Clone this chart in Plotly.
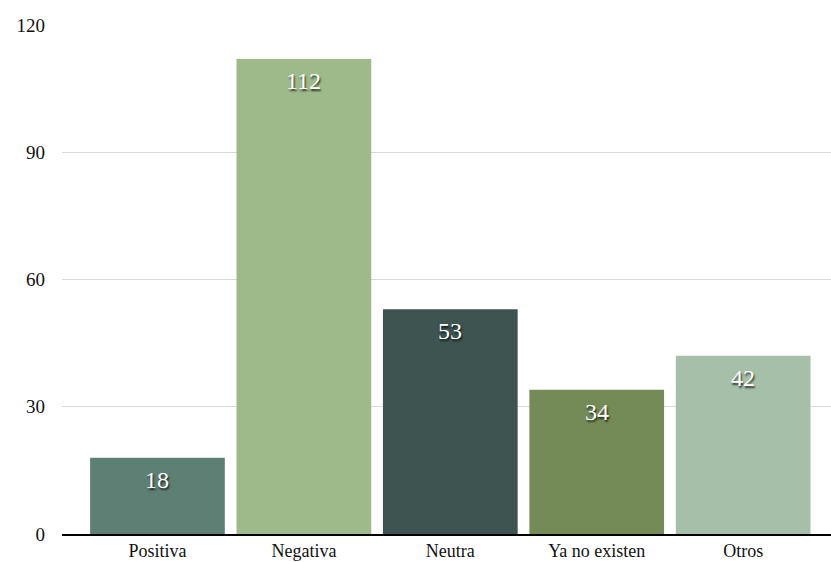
import plotly.graph_objects as go

categories = ["Positiva", "Negativa", "Neutra", "Ya no existen", "Otros"]
values = [18, 112, 53, 34, 42]
colors = ["#5e7f74", "#9eb98a", "#3e5450", "#758b57", "#a6bfa8"]
y_ticks = [0, 30, 60, 90, 120]

fig = go.Figure(
    go.Bar(
        x=categories,
        y=values,
        width=0.92,
        marker=dict(color=colors, line=dict(width=0)),
        hoverinfo="x+y",
    )
)

# value labels placed just below each bar's top edge
for cat, val in zip(categories, values):
    fig.add_annotation(
        x=cat,
        y=val,
        yref="y",
        text=str(val),
        showarrow=False,
        yanchor="middle",
        yshift=-22,
        font=dict(
            family="Liberation Serif", size=24, color="white",
            shadow="1px 2px 2px rgba(0,0,0,0.75)",
        ),
    )

fig.update_layout(
    width=831,
    height=562,
    margin=dict(l=62, r=0, t=25, b=28),
    plot_bgcolor="white",
    paper_bgcolor="white",
    showlegend=False,
    font=dict(family="Liberation Serif", color="#111111"),
)

fig.update_xaxes(
    range=[-0.652, 4.6],
    showline=True,
    linecolor="black",
    linewidth=1.5,
    showgrid=False,
    ticks="",
    automargin=False,
    ticklabelstandoff=0,
    tickfont=dict(family="Liberation Serif", size=18, color="#111111"),
)

fig.update_yaxes(
    range=[0, 120],
    tickvals=y_ticks,
    showgrid=True,
    gridcolor="#d9d9d9",
    gridwidth=1,
    zeroline=False,
    showline=False,
    ticks="",
    automargin=False,
    ticklabelstandoff=16,
    tickfont=dict(family="Liberation Serif", size=19, color="#111111"),
)

fig.write_html("out.html")
